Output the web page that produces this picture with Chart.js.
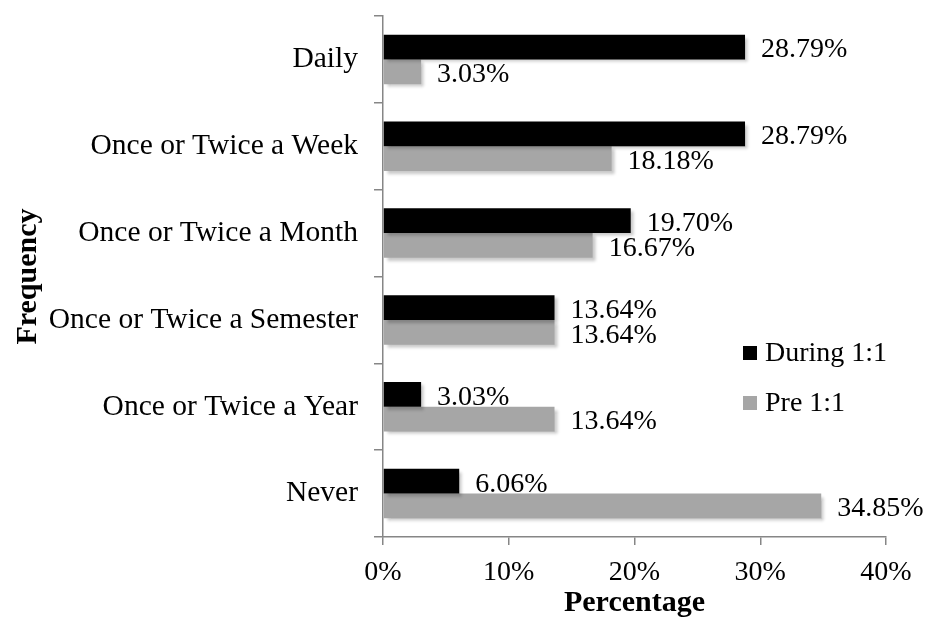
<!DOCTYPE html>
<html>
<head>
<meta charset="utf-8">
<script src="https://cdn.jsdelivr.net/npm/chart.js@4/dist/chart.umd.min.js"></script>
<style>
html,body{margin:0;padding:0;background:#fff;}
#wrap{width:928px;height:619px;position:relative;}
</style>
</head>
<body>
<div id="wrap"><canvas id="c" width="928" height="619"></canvas></div>
<script>
const categories = ["Daily","Once or Twice a Week","Once or Twice a Month","Once or Twice a Semester","Once or Twice a Year","Never"];
const seriesNames = ["During 1:1","Pre 1:1"];
const during = [28.79, 28.79, 19.70, 13.64, 3.03, 6.06];
const pre = [3.03, 18.18, 16.67, 13.64, 13.64, 34.85];
const xTicks = [0, 10, 20, 30, 40];
const colors = ["#000000", "#A6A6A6"];
const FONT = "'Liberation Serif', 'Times New Roman', serif";

const shadowPlugin = {
  id: 'shadow',
  beforeDatasetDraw(chart) {
    const ctx = chart.ctx;
    ctx.save();
    ctx.shadowColor = 'rgba(0,0,0,0.22)';
    ctx.shadowBlur = 3;
    ctx.shadowOffsetX = 3;
    ctx.shadowOffsetY = 3;
  },
  afterDatasetDraw(chart) {
    chart.ctx.restore();
  }
};

const labelPlugin = {
  id: 'valueLabels',
  afterDatasetsDraw(chart) {
    const ctx = chart.ctx;
    ctx.save();
    ctx.font = "28px " + FONT;
    ctx.fillStyle = '#000';
    ctx.textAlign = 'left';
    ctx.textBaseline = 'middle';
    chart.data.datasets.forEach((ds, di) => {
      const meta = chart.getDatasetMeta(di);
      meta.data.forEach((el, i) => {
        ctx.fillText(ds.data[i].toFixed(2) + '%', el.x + 16, el.y + 3);
      });
    });
    ctx.restore();
  }
};

const legendPlugin = {
  id: 'innerLegend',
  afterDraw(chart) {
    const ctx = chart.ctx;
    ctx.save();
    ctx.font = "28px " + FONT;
    ctx.textAlign = 'left';
    ctx.textBaseline = 'middle';
    const x0 = 743, y0 = 353, step = 50;
    chart.data.datasets.forEach((ds, i) => {
      const y = y0 + i * step;
      ctx.fillStyle = ds.backgroundColor;
      ctx.fillRect(x0, y - 7, 14, 14);
      ctx.fillStyle = '#000';
      ctx.fillText(ds.label, x0 + 22, y + 1);
    });
    ctx.restore();
  }
};

new Chart(document.getElementById('c'), {
  type: 'bar',
  data: {
    labels: categories,
    datasets: [
      { label: seriesNames[0], data: during, backgroundColor: colors[0], borderWidth: 0 },
      { label: seriesNames[1], data: pre, backgroundColor: colors[1], borderWidth: 0 }
    ]
  },
  options: {
    indexAxis: 'y',
    responsive: false,
    animation: false,
    categoryPercentage: 0.57,
    barPercentage: 1.0,
    layout: { padding: { left: 0, right: 42, top: 16, bottom: 0 } },
    plugins: { legend: { display: false }, tooltip: { enabled: false } },
    scales: {
      x: {
        type: 'linear',
        min: 0, max: 40,
        afterBuildTicks(s) { s.ticks = xTicks.map(v => ({ value: v })); },
        afterFit(s) { s.height = 82; },
        grid: { display: true, drawOnChartArea: false, tickLength: 8, color: '#868686', lineWidth: 1.5 },
        border: { color: '#868686', width: 1.5 },
        ticks: { font: { family: FONT, size: 28 }, color: '#000', padding: 11, callback: v => v + '%' },
        title: { display: true, text: 'Percentage', font: { family: FONT, size: 30, weight: 'bold' }, color: '#000', padding: { top: 0, bottom: -2 } }
      },
      y: {
        type: 'category',
        afterFit(s) { s.width = 383; s.paddingTop = 0; s.paddingBottom = 0; },
        grid: { display: true, drawOnChartArea: false, offset: true, tickLength: 9, color: '#868686', lineWidth: 1.5 },
        border: { color: '#868686', width: 1.5 },
        ticks: { font: { family: FONT, size: 29.5 }, color: '#000', padding: 16 },
        title: { display: true, text: 'Frequency', font: { family: FONT, size: 30, weight: 'bold' }, color: '#000', padding: { top: 10, bottom: 0 } }
      }
    }
  },
  plugins: [shadowPlugin, labelPlugin, legendPlugin]
});
</script>
</body>
</html>
